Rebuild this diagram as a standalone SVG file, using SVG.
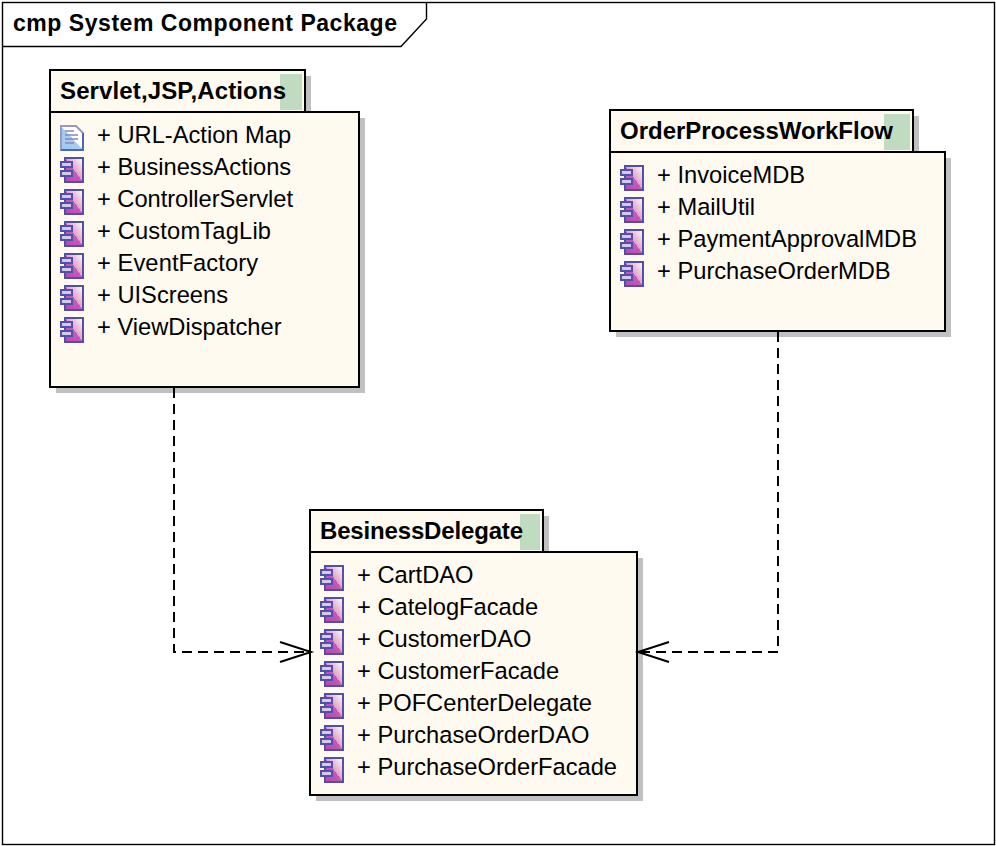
<svg xmlns="http://www.w3.org/2000/svg" width="996" height="846" viewBox="0 0 996 846">
<style>
.box{fill:#fffaf0;stroke:#000;stroke-width:2}
.sh{fill:#c0c0c0}
.gr{fill:#c0dcc0}
.tt{font:bold 24px "Liberation Sans",Arial,sans-serif;fill:#000}
.ft{font:bold 23px "Liberation Sans",Arial,sans-serif;fill:#000}
.it{font:23.7px "Liberation Sans",Arial,sans-serif;fill:#000}
.fr{fill:none;stroke:#000;stroke-width:1.4}
.con{fill:none;stroke:#000;stroke-width:2;stroke-dasharray:10 6}
.arr{fill:none;stroke:#000;stroke-width:2}
</style>
<defs>
<linearGradient id="cg" x1="0" y1="1" x2="1" y2="0"><stop offset="0" stop-color="#b848b0"/><stop offset=".5" stop-color="#c858b8"/><stop offset=".5" stop-color="#e0a0c8"/><stop offset="1" stop-color="#fff"/></linearGradient>
<linearGradient id="dg" x1="0" y1="1" x2="1" y2="0"><stop offset="0" stop-color="#a0c8f0"/><stop offset=".5" stop-color="#a8ccf0"/><stop offset=".5" stop-color="#fff"/><stop offset="1" stop-color="#fff"/></linearGradient>
<g id="comp">
<rect x="5" y="1" width="18" height="24" fill="url(#cg)" stroke="#5050a8" stroke-width="2"/>
<rect x="1" y="5" width="11" height="5" fill="#d8c8e8" stroke="#5050a8" stroke-width="2"/>
<rect x="1" y="14" width="11" height="5" fill="#d8c8e8" stroke="#5050a8" stroke-width="2"/>
</g>
<g id="doc">
<path d="M1 1H16L23 8V25H1Z" fill="url(#dg)" stroke="#9898c8" stroke-width="2"/>
<path d="M1 25H23V8" fill="none" stroke="#4868c0" stroke-width="2"/>
<path d="M5 6H14M5 10H18M5 14H18M5 18H14" stroke="#8888b8" stroke-width="1.5"/>
</g>
</defs>
<rect width="996" height="846" fill="#fff"/>
<g id="frame">
<rect class="fr" x="2.5" y="2.5" width="992" height="842"/>
<path class="fr" d="M2.5 46.5H401L426.5 19V2.5"/>
<text class="ft" x="13" y="31" textLength="384" lengthAdjust="spacing">cmp System Component Package</text>
</g>
<g id="pkg-servlet">
<rect class="sh" x="56" y="76" width="255" height="42"/>
<rect class="sh" x="56" y="118" width="309" height="275"/>
<rect class="box" x="50" y="70" width="255" height="42"/>
<rect class="box" x="50" y="112" width="309" height="275"/>
<rect class="gr" x="280" y="74" width="22" height="36"/>
<text class="tt" x="60" y="99" textLength="226">Servlet,JSP,Actions</text>
<use href="#doc" x="60" y="125"/><text class="it" x="97" y="143">+ URL-Action Map</text>
<use href="#comp" x="60" y="157"/><text class="it" x="97" y="175">+ BusinessActions</text>
<use href="#comp" x="60" y="189"/><text class="it" x="97" y="207" textLength="196">+ ControllerServlet</text>
<use href="#comp" x="60" y="221"/><text class="it" x="97" y="239" textLength="174">+ CustomTagLib</text>
<use href="#comp" x="60" y="253"/><text class="it" x="97" y="271" textLength="161">+ EventFactory</text>
<use href="#comp" x="60" y="285"/><text class="it" x="97" y="303">+ UIScreens</text>
<use href="#comp" x="60" y="317"/><text class="it" x="97" y="335">+ ViewDispatcher</text>
</g>
<g id="pkg-order">
<rect class="sh" x="616" y="116" width="303" height="42"/>
<rect class="sh" x="616" y="158" width="335" height="179"/>
<rect class="box" x="610" y="110" width="303" height="42"/>
<rect class="box" x="610" y="152" width="335" height="179"/>
<rect class="gr" x="884" y="114" width="26" height="36"/>
<text class="tt" x="620" y="139" textLength="273">OrderProcessWorkFlow</text>
<use href="#comp" x="620" y="165"/><text class="it" x="657" y="183">+ InvoiceMDB</text>
<use href="#comp" x="620" y="197"/><text class="it" x="657" y="215">+ MailUtil</text>
<use href="#comp" x="620" y="229"/><text class="it" x="657" y="247">+ PaymentApprovalMDB</text>
<use href="#comp" x="620" y="261"/><text class="it" x="657" y="279">+ PurchaseOrderMDB</text>
</g>
<g id="pkg-delegate">
<rect class="sh" x="316" y="516" width="233" height="42"/>
<rect class="sh" x="316" y="558" width="327" height="243"/>
<rect class="box" x="310" y="510" width="233" height="42"/>
<rect class="box" x="310" y="552" width="327" height="243"/>
<rect class="gr" x="520" y="514" width="20" height="36"/>
<text class="tt" x="320" y="539" textLength="203">BesinessDelegate</text>
<use href="#comp" x="320" y="565"/><text class="it" x="357" y="583">+ CartDAO</text>
<use href="#comp" x="320" y="597"/><text class="it" x="357" y="615">+ CatelogFacade</text>
<use href="#comp" x="320" y="629"/><text class="it" x="357" y="647">+ CustomerDAO</text>
<use href="#comp" x="320" y="661"/><text class="it" x="357" y="679">+ CustomerFacade</text>
<use href="#comp" x="320" y="693"/><text class="it" x="357" y="711">+ POFCenterDelegate</text>
<use href="#comp" x="320" y="725"/><text class="it" x="357" y="743">+ PurchaseOrderDAO</text>
<use href="#comp" x="320" y="757"/><text class="it" x="357" y="775">+ PurchaseOrderFacade</text>
</g>
<g id="connectors">
<path class="con" d="M174 388V652H310"/>
<path class="arr" d="M280 642L311 652L280 662"/>
<path class="con" d="M778 332V652H638"/>
<path class="arr" d="M669 642L638 652L669 662"/>
</g>
</svg>
